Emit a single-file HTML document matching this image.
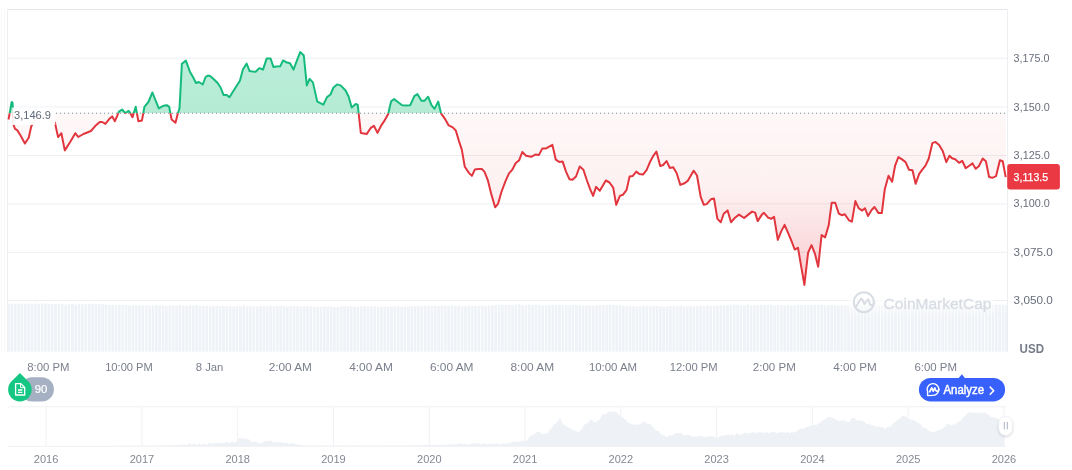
<!DOCTYPE html>
<html><head><meta charset="utf-8"><style>
html,body{margin:0;padding:0;background:#fff;}
body{width:1072px;height:470px;overflow:hidden;position:relative;font-family:"Liberation Sans",Arial,sans-serif;}
svg{position:absolute;left:0;top:0;will-change:transform;}
</style></head><body>
<svg width="1072" height="470" viewBox="0 0 1072 470">
<defs>
<clipPath id="cu"><rect x="0" y="0" width="1072" height="113.2"/></clipPath>
<clipPath id="cd"><rect x="0" y="113.2" width="1072" height="300"/></clipPath>
<linearGradient id="gr" x1="0" y1="113.2" x2="0" y2="285" gradientUnits="userSpaceOnUse">
<stop offset="0" stop-color="#ea3943" stop-opacity="0.035"/>
<stop offset="0.45" stop-color="#ea3943" stop-opacity="0.075"/>
<stop offset="1" stop-color="#ea3943" stop-opacity="0.26"/>
</linearGradient>
<linearGradient id="gg" x1="0" y1="50" x2="0" y2="113.2" gradientUnits="userSpaceOnUse">
<stop offset="0" stop-color="#bbeedb"/>
<stop offset="1" stop-color="#b5ebd5"/>
</linearGradient>
<filter id="sh" x="-50%" y="-50%" width="200%" height="200%"><feDropShadow dx="0" dy="1" stdDeviation="1.3" flood-color="#58667e" flood-opacity="0.3"/></filter>
<linearGradient id="wm" x1="0" y1="289" x2="0" y2="319" gradientUnits="userSpaceOnUse">
<stop offset="0" stop-color="#fff" stop-opacity="0.8"/>
<stop offset="0.5" stop-color="#fff" stop-opacity="0.6"/>
<stop offset="1" stop-color="#fff" stop-opacity="0"/>
</linearGradient>
</defs>
<!-- frame -->
<g stroke="#eceef1" stroke-width="1" fill="none">
<line x1="7" x2="1008" y1="9.5" y2="9.5" stroke="#e4e6e9"/>
<line x1="7.5" x2="7.5" y1="9" y2="352" stroke="#eff0f2"/>
<line x1="1.5" x2="1.5" y1="8" y2="352" stroke="#f9f9fa"/>
<line x1="4.5" x2="4.5" y1="8" y2="352" stroke="#f9f9fa"/>
<line x1="1007.5" x2="1007.5" y1="9" y2="352"/>
<line x1="7" x2="1007" y1="58.2" y2="58.2"/><line x1="7" x2="1007" y1="107.1" y2="107.1"/><line x1="7" x2="1007" y1="155.5" y2="155.5"/><line x1="7" x2="1007" y1="203.9" y2="203.9"/><line x1="7" x2="1007" y1="252.3" y2="252.3"/><line x1="7" x2="1007" y1="300.5" y2="300.5"/>
</g>
<!-- volume -->
<g fill="#eff2f6"><rect x="7.20" y="303.7" width="2.60" height="48.0"/><rect x="10.56" y="303.6" width="2.60" height="48.1"/><rect x="13.92" y="304.1" width="2.60" height="47.6"/><rect x="17.28" y="303.5" width="2.60" height="48.2"/><rect x="20.64" y="304.0" width="2.60" height="47.7"/><rect x="24.00" y="303.8" width="2.60" height="47.9"/><rect x="27.36" y="303.5" width="2.60" height="48.2"/><rect x="30.72" y="304.0" width="2.60" height="47.7"/><rect x="34.08" y="303.5" width="2.60" height="48.2"/><rect x="37.44" y="303.9" width="2.60" height="47.8"/><rect x="40.80" y="303.6" width="2.60" height="48.1"/><rect x="44.16" y="303.6" width="2.60" height="48.1"/><rect x="47.52" y="304.0" width="2.60" height="47.7"/><rect x="50.88" y="304.4" width="2.60" height="47.3"/><rect x="54.24" y="303.7" width="2.60" height="48.0"/><rect x="57.60" y="303.8" width="2.60" height="47.9"/><rect x="60.96" y="304.2" width="2.60" height="47.5"/><rect x="64.32" y="304.5" width="2.60" height="47.2"/><rect x="67.68" y="304.2" width="2.60" height="47.5"/><rect x="71.04" y="304.0" width="2.60" height="47.7"/><rect x="74.40" y="304.6" width="2.60" height="47.1"/><rect x="77.76" y="303.7" width="2.60" height="48.0"/><rect x="81.12" y="304.5" width="2.60" height="47.2"/><rect x="84.48" y="303.9" width="2.60" height="47.8"/><rect x="87.84" y="303.8" width="2.60" height="47.9"/><rect x="91.20" y="303.8" width="2.60" height="47.9"/><rect x="94.56" y="304.0" width="2.60" height="47.7"/><rect x="97.92" y="304.5" width="2.60" height="47.2"/><rect x="101.28" y="304.0" width="2.60" height="47.7"/><rect x="104.64" y="304.7" width="2.60" height="47.0"/><rect x="108.00" y="305.1" width="2.60" height="46.6"/><rect x="111.36" y="305.1" width="2.60" height="46.6"/><rect x="114.72" y="305.3" width="2.60" height="46.4"/><rect x="118.08" y="304.8" width="2.60" height="46.9"/><rect x="121.44" y="304.8" width="2.60" height="46.9"/><rect x="124.80" y="305.0" width="2.60" height="46.7"/><rect x="128.16" y="305.5" width="2.60" height="46.2"/><rect x="131.52" y="305.2" width="2.60" height="46.5"/><rect x="134.88" y="305.1" width="2.60" height="46.6"/><rect x="138.24" y="305.4" width="2.60" height="46.3"/><rect x="141.60" y="305.3" width="2.60" height="46.4"/><rect x="144.96" y="305.2" width="2.60" height="46.5"/><rect x="148.32" y="305.7" width="2.60" height="46.0"/><rect x="151.68" y="305.6" width="2.60" height="46.1"/><rect x="155.04" y="305.2" width="2.60" height="46.5"/><rect x="158.40" y="305.5" width="2.60" height="46.2"/><rect x="161.76" y="305.5" width="2.60" height="46.2"/><rect x="165.12" y="305.9" width="2.60" height="45.8"/><rect x="168.48" y="305.7" width="2.60" height="46.0"/><rect x="171.84" y="305.3" width="2.60" height="46.4"/><rect x="175.20" y="306.0" width="2.60" height="45.7"/><rect x="178.56" y="305.2" width="2.60" height="46.5"/><rect x="181.92" y="305.5" width="2.60" height="46.2"/><rect x="185.28" y="305.9" width="2.60" height="45.8"/><rect x="188.64" y="305.3" width="2.60" height="46.4"/><rect x="192.00" y="305.7" width="2.60" height="46.0"/><rect x="195.36" y="305.2" width="2.60" height="46.5"/><rect x="198.72" y="305.9" width="2.60" height="45.8"/><rect x="202.08" y="306.0" width="2.60" height="45.7"/><rect x="205.44" y="305.8" width="2.60" height="45.9"/><rect x="208.80" y="306.2" width="2.60" height="45.5"/><rect x="212.16" y="305.6" width="2.60" height="46.1"/><rect x="215.52" y="306.0" width="2.60" height="45.7"/><rect x="218.88" y="306.0" width="2.60" height="45.7"/><rect x="222.24" y="306.0" width="2.60" height="45.7"/><rect x="225.60" y="305.9" width="2.60" height="45.8"/><rect x="228.96" y="306.3" width="2.60" height="45.4"/><rect x="232.32" y="306.4" width="2.60" height="45.3"/><rect x="235.68" y="306.0" width="2.60" height="45.7"/><rect x="239.04" y="306.2" width="2.60" height="45.5"/><rect x="242.40" y="305.6" width="2.60" height="46.1"/><rect x="245.76" y="306.3" width="2.60" height="45.4"/><rect x="249.12" y="306.2" width="2.60" height="45.5"/><rect x="252.48" y="306.6" width="2.60" height="45.1"/><rect x="255.84" y="306.5" width="2.60" height="45.2"/><rect x="259.20" y="305.9" width="2.60" height="45.8"/><rect x="262.56" y="306.1" width="2.60" height="45.6"/><rect x="265.92" y="306.4" width="2.60" height="45.3"/><rect x="269.28" y="305.7" width="2.60" height="46.0"/><rect x="272.64" y="306.2" width="2.60" height="45.5"/><rect x="276.00" y="305.9" width="2.60" height="45.8"/><rect x="279.36" y="305.9" width="2.60" height="45.8"/><rect x="282.72" y="305.8" width="2.60" height="45.9"/><rect x="286.08" y="306.6" width="2.60" height="45.1"/><rect x="289.44" y="305.9" width="2.60" height="45.8"/><rect x="292.80" y="306.1" width="2.60" height="45.6"/><rect x="296.16" y="306.2" width="2.60" height="45.5"/><rect x="299.52" y="306.7" width="2.60" height="45.0"/><rect x="302.88" y="305.9" width="2.60" height="45.8"/><rect x="306.24" y="306.3" width="2.60" height="45.4"/><rect x="309.60" y="306.4" width="2.60" height="45.3"/><rect x="312.96" y="306.8" width="2.60" height="44.9"/><rect x="316.32" y="306.7" width="2.60" height="45.0"/><rect x="319.68" y="306.8" width="2.60" height="44.9"/><rect x="323.04" y="306.2" width="2.60" height="45.5"/><rect x="326.40" y="306.4" width="2.60" height="45.3"/><rect x="329.76" y="306.3" width="2.60" height="45.4"/><rect x="333.12" y="306.9" width="2.60" height="44.8"/><rect x="336.48" y="306.9" width="2.60" height="44.8"/><rect x="339.84" y="306.2" width="2.60" height="45.5"/><rect x="343.20" y="306.2" width="2.60" height="45.5"/><rect x="346.56" y="306.2" width="2.60" height="45.5"/><rect x="349.92" y="306.2" width="2.60" height="45.5"/><rect x="353.28" y="306.4" width="2.60" height="45.3"/><rect x="356.64" y="306.5" width="2.60" height="45.2"/><rect x="360.00" y="306.2" width="2.60" height="45.5"/><rect x="363.36" y="305.9" width="2.60" height="45.8"/><rect x="366.72" y="306.3" width="2.60" height="45.4"/><rect x="370.08" y="306.3" width="2.60" height="45.4"/><rect x="373.44" y="306.4" width="2.60" height="45.3"/><rect x="376.80" y="306.8" width="2.60" height="44.9"/><rect x="380.16" y="306.5" width="2.60" height="45.2"/><rect x="383.52" y="306.4" width="2.60" height="45.3"/><rect x="386.88" y="306.5" width="2.60" height="45.2"/><rect x="390.24" y="306.5" width="2.60" height="45.2"/><rect x="393.60" y="305.9" width="2.60" height="45.8"/><rect x="396.96" y="306.7" width="2.60" height="45.0"/><rect x="400.32" y="306.6" width="2.60" height="45.1"/><rect x="403.68" y="306.6" width="2.60" height="45.1"/><rect x="407.04" y="306.6" width="2.60" height="45.1"/><rect x="410.40" y="306.1" width="2.60" height="45.6"/><rect x="413.76" y="306.1" width="2.60" height="45.6"/><rect x="417.12" y="305.8" width="2.60" height="45.9"/><rect x="420.48" y="306.3" width="2.60" height="45.4"/><rect x="423.84" y="305.8" width="2.60" height="45.9"/><rect x="427.20" y="305.8" width="2.60" height="45.9"/><rect x="430.56" y="305.9" width="2.60" height="45.8"/><rect x="433.92" y="305.8" width="2.60" height="45.9"/><rect x="437.28" y="306.0" width="2.60" height="45.7"/><rect x="440.64" y="305.7" width="2.60" height="46.0"/><rect x="444.00" y="305.6" width="2.60" height="46.1"/><rect x="447.36" y="305.8" width="2.60" height="45.9"/><rect x="450.72" y="305.7" width="2.60" height="46.0"/><rect x="454.08" y="306.0" width="2.60" height="45.7"/><rect x="457.44" y="305.6" width="2.60" height="46.1"/><rect x="460.80" y="306.4" width="2.60" height="45.3"/><rect x="464.16" y="306.2" width="2.60" height="45.5"/><rect x="467.52" y="305.7" width="2.60" height="46.0"/><rect x="470.88" y="305.8" width="2.60" height="45.9"/><rect x="474.24" y="305.9" width="2.60" height="45.8"/><rect x="477.60" y="305.9" width="2.60" height="45.8"/><rect x="480.96" y="305.6" width="2.60" height="46.1"/><rect x="484.32" y="306.1" width="2.60" height="45.6"/><rect x="487.68" y="306.1" width="2.60" height="45.6"/><rect x="491.04" y="305.4" width="2.60" height="46.3"/><rect x="494.40" y="305.3" width="2.60" height="46.4"/><rect x="497.76" y="304.7" width="2.60" height="47.0"/><rect x="501.12" y="304.6" width="2.60" height="47.1"/><rect x="504.48" y="304.8" width="2.60" height="46.9"/><rect x="507.84" y="304.7" width="2.60" height="47.0"/><rect x="511.20" y="305.2" width="2.60" height="46.5"/><rect x="514.56" y="304.5" width="2.60" height="47.2"/><rect x="517.92" y="304.3" width="2.60" height="47.4"/><rect x="521.28" y="305.3" width="2.60" height="46.4"/><rect x="524.64" y="304.9" width="2.60" height="46.8"/><rect x="528.00" y="304.5" width="2.60" height="47.2"/><rect x="531.36" y="304.9" width="2.60" height="46.8"/><rect x="534.72" y="304.4" width="2.60" height="47.3"/><rect x="538.08" y="304.9" width="2.60" height="46.8"/><rect x="541.44" y="305.4" width="2.60" height="46.3"/><rect x="544.80" y="305.3" width="2.60" height="46.4"/><rect x="548.16" y="305.2" width="2.60" height="46.5"/><rect x="551.52" y="304.8" width="2.60" height="46.9"/><rect x="554.88" y="304.9" width="2.60" height="46.8"/><rect x="558.24" y="304.7" width="2.60" height="47.0"/><rect x="561.60" y="305.3" width="2.60" height="46.4"/><rect x="564.96" y="305.1" width="2.60" height="46.6"/><rect x="568.32" y="305.4" width="2.60" height="46.3"/><rect x="571.68" y="304.9" width="2.60" height="46.8"/><rect x="575.04" y="304.8" width="2.60" height="46.9"/><rect x="578.40" y="305.4" width="2.60" height="46.3"/><rect x="581.76" y="305.6" width="2.60" height="46.1"/><rect x="585.12" y="305.5" width="2.60" height="46.2"/><rect x="588.48" y="305.5" width="2.60" height="46.2"/><rect x="591.84" y="305.5" width="2.60" height="46.2"/><rect x="595.20" y="305.5" width="2.60" height="46.2"/><rect x="598.56" y="305.0" width="2.60" height="46.7"/><rect x="601.92" y="305.3" width="2.60" height="46.4"/><rect x="605.28" y="305.1" width="2.60" height="46.6"/><rect x="608.64" y="304.8" width="2.60" height="46.9"/><rect x="612.00" y="304.9" width="2.60" height="46.8"/><rect x="615.36" y="305.2" width="2.60" height="46.5"/><rect x="618.72" y="305.3" width="2.60" height="46.4"/><rect x="622.08" y="305.8" width="2.60" height="45.9"/><rect x="625.44" y="306.1" width="2.60" height="45.6"/><rect x="628.80" y="305.7" width="2.60" height="46.0"/><rect x="632.16" y="306.2" width="2.60" height="45.5"/><rect x="635.52" y="306.4" width="2.60" height="45.3"/><rect x="638.88" y="306.4" width="2.60" height="45.3"/><rect x="642.24" y="305.9" width="2.60" height="45.8"/><rect x="645.60" y="305.8" width="2.60" height="45.9"/><rect x="648.96" y="305.9" width="2.60" height="45.8"/><rect x="652.32" y="305.9" width="2.60" height="45.8"/><rect x="655.68" y="305.9" width="2.60" height="45.8"/><rect x="659.04" y="306.3" width="2.60" height="45.4"/><rect x="662.40" y="306.6" width="2.60" height="45.1"/><rect x="665.76" y="306.5" width="2.60" height="45.2"/><rect x="669.12" y="306.1" width="2.60" height="45.6"/><rect x="672.48" y="306.3" width="2.60" height="45.4"/><rect x="675.84" y="306.4" width="2.60" height="45.3"/><rect x="679.20" y="305.7" width="2.60" height="46.0"/><rect x="682.56" y="306.2" width="2.60" height="45.5"/><rect x="685.92" y="306.5" width="2.60" height="45.2"/><rect x="689.28" y="306.3" width="2.60" height="45.4"/><rect x="692.64" y="306.3" width="2.60" height="45.4"/><rect x="696.00" y="306.0" width="2.60" height="45.7"/><rect x="699.36" y="305.7" width="2.60" height="46.0"/><rect x="702.72" y="306.2" width="2.60" height="45.5"/><rect x="706.08" y="305.6" width="2.60" height="46.1"/><rect x="709.44" y="306.0" width="2.60" height="45.7"/><rect x="712.80" y="306.0" width="2.60" height="45.7"/><rect x="716.16" y="305.4" width="2.60" height="46.3"/><rect x="719.52" y="305.3" width="2.60" height="46.4"/><rect x="722.88" y="305.7" width="2.60" height="46.0"/><rect x="726.24" y="305.4" width="2.60" height="46.3"/><rect x="729.60" y="304.7" width="2.60" height="47.0"/><rect x="732.96" y="304.6" width="2.60" height="47.1"/><rect x="736.32" y="304.7" width="2.60" height="47.0"/><rect x="739.68" y="305.4" width="2.60" height="46.3"/><rect x="743.04" y="305.3" width="2.60" height="46.4"/><rect x="746.40" y="304.7" width="2.60" height="47.0"/><rect x="749.76" y="305.4" width="2.60" height="46.3"/><rect x="753.12" y="305.5" width="2.60" height="46.2"/><rect x="756.48" y="305.2" width="2.60" height="46.5"/><rect x="759.84" y="304.9" width="2.60" height="46.8"/><rect x="763.20" y="305.1" width="2.60" height="46.6"/><rect x="766.56" y="304.7" width="2.60" height="47.0"/><rect x="769.92" y="304.6" width="2.60" height="47.1"/><rect x="773.28" y="305.5" width="2.60" height="46.2"/><rect x="776.64" y="305.2" width="2.60" height="46.5"/><rect x="780.00" y="305.1" width="2.60" height="46.6"/><rect x="783.36" y="305.5" width="2.60" height="46.2"/><rect x="786.72" y="305.0" width="2.60" height="46.7"/><rect x="790.08" y="305.5" width="2.60" height="46.2"/><rect x="793.44" y="305.4" width="2.60" height="46.3"/><rect x="796.80" y="304.8" width="2.60" height="46.9"/><rect x="800.16" y="304.9" width="2.60" height="46.8"/><rect x="803.52" y="304.9" width="2.60" height="46.8"/><rect x="806.88" y="304.9" width="2.60" height="46.8"/><rect x="810.24" y="305.2" width="2.60" height="46.5"/><rect x="813.60" y="304.9" width="2.60" height="46.8"/><rect x="816.96" y="305.1" width="2.60" height="46.6"/><rect x="820.32" y="304.8" width="2.60" height="46.9"/><rect x="823.68" y="305.6" width="2.60" height="46.1"/><rect x="827.04" y="305.0" width="2.60" height="46.7"/><rect x="830.40" y="305.1" width="2.60" height="46.6"/><rect x="833.76" y="305.3" width="2.60" height="46.4"/><rect x="837.12" y="305.6" width="2.60" height="46.1"/><rect x="840.48" y="305.1" width="2.60" height="46.6"/><rect x="843.84" y="305.6" width="2.60" height="46.1"/><rect x="847.20" y="305.2" width="2.60" height="46.5"/><rect x="850.56" y="305.2" width="2.60" height="46.5"/><rect x="853.92" y="305.2" width="2.60" height="46.5"/><rect x="857.28" y="304.7" width="2.60" height="47.0"/><rect x="860.64" y="305.2" width="2.60" height="46.5"/><rect x="864.00" y="304.9" width="2.60" height="46.8"/><rect x="867.36" y="304.7" width="2.60" height="47.0"/><rect x="870.72" y="305.5" width="2.60" height="46.2"/><rect x="874.08" y="304.9" width="2.60" height="46.8"/><rect x="877.44" y="305.2" width="2.60" height="46.5"/><rect x="880.80" y="305.5" width="2.60" height="46.2"/><rect x="884.16" y="305.3" width="2.60" height="46.4"/><rect x="887.52" y="305.1" width="2.60" height="46.6"/><rect x="890.88" y="305.3" width="2.60" height="46.4"/><rect x="894.24" y="305.3" width="2.60" height="46.4"/><rect x="897.60" y="305.6" width="2.60" height="46.1"/><rect x="900.96" y="304.9" width="2.60" height="46.8"/><rect x="904.32" y="305.3" width="2.60" height="46.4"/><rect x="907.68" y="305.0" width="2.60" height="46.7"/><rect x="911.04" y="305.0" width="2.60" height="46.7"/><rect x="914.40" y="305.5" width="2.60" height="46.2"/><rect x="917.76" y="305.3" width="2.60" height="46.4"/><rect x="921.12" y="305.3" width="2.60" height="46.4"/><rect x="924.48" y="305.5" width="2.60" height="46.2"/><rect x="927.84" y="305.6" width="2.60" height="46.1"/><rect x="931.20" y="305.2" width="2.60" height="46.5"/><rect x="934.56" y="305.3" width="2.60" height="46.4"/><rect x="937.92" y="305.2" width="2.60" height="46.5"/><rect x="941.28" y="305.2" width="2.60" height="46.5"/><rect x="944.64" y="305.4" width="2.60" height="46.3"/><rect x="948.00" y="305.1" width="2.60" height="46.6"/><rect x="951.36" y="305.2" width="2.60" height="46.5"/><rect x="954.72" y="305.1" width="2.60" height="46.6"/><rect x="958.08" y="305.6" width="2.60" height="46.1"/><rect x="961.44" y="305.3" width="2.60" height="46.4"/><rect x="964.80" y="305.5" width="2.60" height="46.2"/><rect x="968.16" y="305.6" width="2.60" height="46.1"/><rect x="971.52" y="304.9" width="2.60" height="46.8"/><rect x="974.88" y="305.1" width="2.60" height="46.6"/><rect x="978.24" y="305.5" width="2.60" height="46.2"/><rect x="981.60" y="305.4" width="2.60" height="46.3"/><rect x="984.96" y="304.7" width="2.60" height="47.0"/><rect x="988.32" y="304.7" width="2.60" height="47.0"/><rect x="991.68" y="305.0" width="2.60" height="46.7"/><rect x="995.04" y="304.6" width="2.60" height="47.1"/><rect x="998.40" y="304.8" width="2.60" height="46.9"/><rect x="1001.76" y="304.6" width="2.60" height="47.1"/><rect x="1005.12" y="305.2" width="1.88" height="46.5"/></g>
<!-- watermark -->
<rect x="848.3" y="289" width="145.7" height="30" fill="url(#wm)"/>
<g opacity="1">
<circle cx="863.8" cy="302.2" r="10" fill="none" stroke="#d8dce3" stroke-width="2"/>
<path d="M856 306.4 L860.6 299.4 Q861.6 298 862.4 299.6 L864.3 304.2 L867.2 300 Q868.2 298.8 868.8 300.5 Q869.8 305.4 871.6 305.3 Q873.6 305.1 874.4 302.3" fill="none" stroke="#d8dce3" stroke-width="2" stroke-linejoin="round" stroke-linecap="round"/>
<text x="883.6" y="309.3" font-size="15.5" fill="#d8dce3" stroke="#d8dce3" stroke-width="0.3" textLength="107.8" lengthAdjust="spacingAndGlyphs">CoinMarketCap</text>
</g>
<!-- fills -->
<path d="M8.5 119.5 L11.7 102 L12.6 103 L13.8 125.7 L15.1 128.8 L17.2 130.1 L20.4 135.2 L24.9 143.5 L28.7 137.8 L31.3 126.3 L36 118 L45 116 L53.5 122.8 L54.9 122.5 L58.1 137.1 L61.4 133.2 L64.8 150.4 L70 142.2 L75.3 133.2 L78.2 137 L83.5 134 L90.9 131 L95.4 125.8 L99.8 122 L102.2 122 L105.4 123.9 L109.4 118.8 L112.2 116.4 L114.9 121.2 L117.3 115.6 L118.9 111.6 L122.1 109.5 L125.3 113.2 L128.5 110.8 L130.1 112.7 L132.5 117.2 L135.7 106.8 L138.4 121.2 L142 120.4 L144.4 106.8 L148.4 102 L152.4 92.5 L158.8 108.4 L163.6 105.7 L166.8 105.2 L169.2 106.8 L171.6 119.6 L175.5 122.8 L177.9 113.2 L179.5 108.4 L181.9 63.8 L185.9 60.6 L189.9 71.7 L193 77 L196 83 L198.9 82 L202.7 84.5 L205.6 77 L207.9 75.6 L210.1 76 L213.8 79.3 L217.6 83 L220.6 87.5 L223.5 94.9 L226.5 94.9 L229.5 97.2 L233.2 91.2 L239.9 80.8 L242.9 69.6 L246.6 63.6 L249.6 71.1 L252.6 71.5 L255.6 71.8 L259.3 68.1 L263 69.6 L266.7 58.4 L270.5 58.4 L273.5 67.1 L276.4 66.6 L280.2 66.2 L283.1 60.4 L286.9 62.6 L288 62.8 L290 63.2 L293.5 69.6 L296.7 61.2 L300.2 52.1 L303.8 55.5 L306.8 85.4 L309.6 78.9 L312.9 82.4 L317.3 101.6 L323.4 104.6 L327 97.1 L330.5 94.5 L333.5 87.4 L337.1 84.4 L340.6 85.4 L345.6 90.5 L348.6 96.5 L351.7 107.6 L355.7 104 L357.7 104.6 L360.8 132.9 L366.8 133.9 L370.9 127.8 L373.9 125.8 L377.5 132.9 L381.6 124.8 L384 121.4 L388.1 114.3 L391.1 101.2 L394.1 99.1 L398.2 102.2 L402.2 105.2 L406.3 105.6 L410.3 105.2 L414.3 96.1 L417.4 94.1 L421.4 100.8 L424.4 100.8 L428.1 96.7 L431.5 105.2 L434.5 108.8 L438.2 101.6 L441 113.3 L444.6 118.3 L448.7 125.4 L452.7 127.4 L455.8 130.5 L458.8 140.6 L461.8 149.6 L464.8 166.8 L468.9 172.9 L471.9 175.9 L474.9 169.4 L478.4 169 L481.8 169 L484.4 171.6 L487.8 180.1 L491.2 193.7 L495.1 207.3 L498 203.9 L501.4 192 L505.6 180.9 L509 173.3 L512.1 169.9 L515.8 163.1 L519.2 160.2 L522.3 152 L526 155.7 L531.1 156.8 L535.4 154.6 L538.8 155.1 L542.2 148.6 L545.6 148.6 L552.4 144.9 L555.8 159.7 L559.2 161.9 L562.6 161.4 L566 171.6 L569.4 179.2 L572.5 179.8 L576 176.5 L579.7 166.5 L583.4 169.8 L587.1 181 L590.1 189.2 L593.1 195.9 L596.1 186.9 L599.8 190.7 L605.8 180.5 L609.5 182.5 L613.2 187.7 L616.2 204.8 L619.9 195.9 L622.9 194.8 L626.6 189.9 L629.6 176.5 L632.6 176.1 L636.3 171.6 L639.3 174 L643 174.6 L646.7 169.8 L650.5 160.9 L653.5 155.6 L656.4 151.6 L660.2 166.1 L663.1 165 L666.6 161.1 L669.8 167.9 L673.2 167.3 L676.6 173 L680.3 184.9 L684.6 183.2 L688 180.6 L693.6 170.7 L697 175.5 L700.7 196.8 L703.8 204.8 L706.7 204.1 L710.9 199.3 L714 198.5 L717.4 218.9 L720.8 222.3 L723.7 213.8 L727.6 210.4 L731 222.3 L734.7 218 L739 214.6 L744.1 218 L748.3 214.6 L752.1 211.6 L755.1 212.6 L757.7 221.1 L761.9 214.6 L764 212.8 L768.1 217.6 L771.1 218.8 L774.1 216.8 L777.8 239.8 L781.2 231.4 L784.6 224.9 L788.3 233.4 L791.3 240.5 L794.7 249.5 L798 247.9 L801.4 267.7 L804.4 284.9 L808.1 252.6 L811.5 245.1 L814.9 253.6 L818.2 266.7 L821.6 235 L825.1 237.4 L828.7 225.3 L831.7 202.7 L835.2 202.7 L838.8 213.6 L841.8 215.2 L844.8 214.2 L848.9 220.3 L851.9 221.7 L855.4 201.1 L858.6 208.2 L862.2 210.6 L864.9 208.2 L868 216 L871.6 210 L874.5 207 L878.5 213.1 L881.8 213.1 L884.8 189.2 L888.5 175.7 L892.1 181.7 L895.1 165.7 L898.4 157.1 L902 159.4 L905.6 162.1 L908.9 169.7 L912.5 170.3 L915.6 183.8 L919.2 173.9 L922.3 169.7 L925.5 165.7 L928.8 158.5 L932.4 143.1 L935.5 141.9 L939.1 144.9 L942.7 150.9 L946.3 162.1 L949.5 155.7 L952 158.2 L955.2 159.3 L959 162.8 L962.2 160.8 L965.7 168.2 L969.3 165.7 L972.5 163.4 L975.7 168.8 L978.8 166.3 L982.7 158.6 L985.9 161.2 L989.1 177.1 L992.3 177.8 L996.1 176.1 L999.9 160.3 L1002.7 161.2 L1005.7 177.1 L1005.7 113.2 L8.5 113.2 Z" fill="url(#gg)" clip-path="url(#cu)"/>
<path d="M8.5 119.5 L11.7 102 L12.6 103 L13.8 125.7 L15.1 128.8 L17.2 130.1 L20.4 135.2 L24.9 143.5 L28.7 137.8 L31.3 126.3 L36 118 L45 116 L53.5 122.8 L54.9 122.5 L58.1 137.1 L61.4 133.2 L64.8 150.4 L70 142.2 L75.3 133.2 L78.2 137 L83.5 134 L90.9 131 L95.4 125.8 L99.8 122 L102.2 122 L105.4 123.9 L109.4 118.8 L112.2 116.4 L114.9 121.2 L117.3 115.6 L118.9 111.6 L122.1 109.5 L125.3 113.2 L128.5 110.8 L130.1 112.7 L132.5 117.2 L135.7 106.8 L138.4 121.2 L142 120.4 L144.4 106.8 L148.4 102 L152.4 92.5 L158.8 108.4 L163.6 105.7 L166.8 105.2 L169.2 106.8 L171.6 119.6 L175.5 122.8 L177.9 113.2 L179.5 108.4 L181.9 63.8 L185.9 60.6 L189.9 71.7 L193 77 L196 83 L198.9 82 L202.7 84.5 L205.6 77 L207.9 75.6 L210.1 76 L213.8 79.3 L217.6 83 L220.6 87.5 L223.5 94.9 L226.5 94.9 L229.5 97.2 L233.2 91.2 L239.9 80.8 L242.9 69.6 L246.6 63.6 L249.6 71.1 L252.6 71.5 L255.6 71.8 L259.3 68.1 L263 69.6 L266.7 58.4 L270.5 58.4 L273.5 67.1 L276.4 66.6 L280.2 66.2 L283.1 60.4 L286.9 62.6 L288 62.8 L290 63.2 L293.5 69.6 L296.7 61.2 L300.2 52.1 L303.8 55.5 L306.8 85.4 L309.6 78.9 L312.9 82.4 L317.3 101.6 L323.4 104.6 L327 97.1 L330.5 94.5 L333.5 87.4 L337.1 84.4 L340.6 85.4 L345.6 90.5 L348.6 96.5 L351.7 107.6 L355.7 104 L357.7 104.6 L360.8 132.9 L366.8 133.9 L370.9 127.8 L373.9 125.8 L377.5 132.9 L381.6 124.8 L384 121.4 L388.1 114.3 L391.1 101.2 L394.1 99.1 L398.2 102.2 L402.2 105.2 L406.3 105.6 L410.3 105.2 L414.3 96.1 L417.4 94.1 L421.4 100.8 L424.4 100.8 L428.1 96.7 L431.5 105.2 L434.5 108.8 L438.2 101.6 L441 113.3 L444.6 118.3 L448.7 125.4 L452.7 127.4 L455.8 130.5 L458.8 140.6 L461.8 149.6 L464.8 166.8 L468.9 172.9 L471.9 175.9 L474.9 169.4 L478.4 169 L481.8 169 L484.4 171.6 L487.8 180.1 L491.2 193.7 L495.1 207.3 L498 203.9 L501.4 192 L505.6 180.9 L509 173.3 L512.1 169.9 L515.8 163.1 L519.2 160.2 L522.3 152 L526 155.7 L531.1 156.8 L535.4 154.6 L538.8 155.1 L542.2 148.6 L545.6 148.6 L552.4 144.9 L555.8 159.7 L559.2 161.9 L562.6 161.4 L566 171.6 L569.4 179.2 L572.5 179.8 L576 176.5 L579.7 166.5 L583.4 169.8 L587.1 181 L590.1 189.2 L593.1 195.9 L596.1 186.9 L599.8 190.7 L605.8 180.5 L609.5 182.5 L613.2 187.7 L616.2 204.8 L619.9 195.9 L622.9 194.8 L626.6 189.9 L629.6 176.5 L632.6 176.1 L636.3 171.6 L639.3 174 L643 174.6 L646.7 169.8 L650.5 160.9 L653.5 155.6 L656.4 151.6 L660.2 166.1 L663.1 165 L666.6 161.1 L669.8 167.9 L673.2 167.3 L676.6 173 L680.3 184.9 L684.6 183.2 L688 180.6 L693.6 170.7 L697 175.5 L700.7 196.8 L703.8 204.8 L706.7 204.1 L710.9 199.3 L714 198.5 L717.4 218.9 L720.8 222.3 L723.7 213.8 L727.6 210.4 L731 222.3 L734.7 218 L739 214.6 L744.1 218 L748.3 214.6 L752.1 211.6 L755.1 212.6 L757.7 221.1 L761.9 214.6 L764 212.8 L768.1 217.6 L771.1 218.8 L774.1 216.8 L777.8 239.8 L781.2 231.4 L784.6 224.9 L788.3 233.4 L791.3 240.5 L794.7 249.5 L798 247.9 L801.4 267.7 L804.4 284.9 L808.1 252.6 L811.5 245.1 L814.9 253.6 L818.2 266.7 L821.6 235 L825.1 237.4 L828.7 225.3 L831.7 202.7 L835.2 202.7 L838.8 213.6 L841.8 215.2 L844.8 214.2 L848.9 220.3 L851.9 221.7 L855.4 201.1 L858.6 208.2 L862.2 210.6 L864.9 208.2 L868 216 L871.6 210 L874.5 207 L878.5 213.1 L881.8 213.1 L884.8 189.2 L888.5 175.7 L892.1 181.7 L895.1 165.7 L898.4 157.1 L902 159.4 L905.6 162.1 L908.9 169.7 L912.5 170.3 L915.6 183.8 L919.2 173.9 L922.3 169.7 L925.5 165.7 L928.8 158.5 L932.4 143.1 L935.5 141.9 L939.1 144.9 L942.7 150.9 L946.3 162.1 L949.5 155.7 L952 158.2 L955.2 159.3 L959 162.8 L962.2 160.8 L965.7 168.2 L969.3 165.7 L972.5 163.4 L975.7 168.8 L978.8 166.3 L982.7 158.6 L985.9 161.2 L989.1 177.1 L992.3 177.8 L996.1 176.1 L999.9 160.3 L1002.7 161.2 L1005.7 177.1 L1005.7 113.2 L8.5 113.2 Z" fill="url(#gr)" clip-path="url(#cd)"/>
<!-- baseline dotted -->
<line x1="56" x2="1007" y1="113.2" y2="113.2" stroke="#80868f" stroke-width="1" stroke-dasharray="1 3"/>
<!-- lines -->
<path d="M8.5 119.5 L11.7 102 L12.6 103 L13.8 125.7 L15.1 128.8 L17.2 130.1 L20.4 135.2 L24.9 143.5 L28.7 137.8 L31.3 126.3 L36 118 L45 116 L53.5 122.8 L54.9 122.5 L58.1 137.1 L61.4 133.2 L64.8 150.4 L70 142.2 L75.3 133.2 L78.2 137 L83.5 134 L90.9 131 L95.4 125.8 L99.8 122 L102.2 122 L105.4 123.9 L109.4 118.8 L112.2 116.4 L114.9 121.2 L117.3 115.6 L118.9 111.6 L122.1 109.5 L125.3 113.2 L128.5 110.8 L130.1 112.7 L132.5 117.2 L135.7 106.8 L138.4 121.2 L142 120.4 L144.4 106.8 L148.4 102 L152.4 92.5 L158.8 108.4 L163.6 105.7 L166.8 105.2 L169.2 106.8 L171.6 119.6 L175.5 122.8 L177.9 113.2 L179.5 108.4 L181.9 63.8 L185.9 60.6 L189.9 71.7 L193 77 L196 83 L198.9 82 L202.7 84.5 L205.6 77 L207.9 75.6 L210.1 76 L213.8 79.3 L217.6 83 L220.6 87.5 L223.5 94.9 L226.5 94.9 L229.5 97.2 L233.2 91.2 L239.9 80.8 L242.9 69.6 L246.6 63.6 L249.6 71.1 L252.6 71.5 L255.6 71.8 L259.3 68.1 L263 69.6 L266.7 58.4 L270.5 58.4 L273.5 67.1 L276.4 66.6 L280.2 66.2 L283.1 60.4 L286.9 62.6 L288 62.8 L290 63.2 L293.5 69.6 L296.7 61.2 L300.2 52.1 L303.8 55.5 L306.8 85.4 L309.6 78.9 L312.9 82.4 L317.3 101.6 L323.4 104.6 L327 97.1 L330.5 94.5 L333.5 87.4 L337.1 84.4 L340.6 85.4 L345.6 90.5 L348.6 96.5 L351.7 107.6 L355.7 104 L357.7 104.6 L360.8 132.9 L366.8 133.9 L370.9 127.8 L373.9 125.8 L377.5 132.9 L381.6 124.8 L384 121.4 L388.1 114.3 L391.1 101.2 L394.1 99.1 L398.2 102.2 L402.2 105.2 L406.3 105.6 L410.3 105.2 L414.3 96.1 L417.4 94.1 L421.4 100.8 L424.4 100.8 L428.1 96.7 L431.5 105.2 L434.5 108.8 L438.2 101.6 L441 113.3 L444.6 118.3 L448.7 125.4 L452.7 127.4 L455.8 130.5 L458.8 140.6 L461.8 149.6 L464.8 166.8 L468.9 172.9 L471.9 175.9 L474.9 169.4 L478.4 169 L481.8 169 L484.4 171.6 L487.8 180.1 L491.2 193.7 L495.1 207.3 L498 203.9 L501.4 192 L505.6 180.9 L509 173.3 L512.1 169.9 L515.8 163.1 L519.2 160.2 L522.3 152 L526 155.7 L531.1 156.8 L535.4 154.6 L538.8 155.1 L542.2 148.6 L545.6 148.6 L552.4 144.9 L555.8 159.7 L559.2 161.9 L562.6 161.4 L566 171.6 L569.4 179.2 L572.5 179.8 L576 176.5 L579.7 166.5 L583.4 169.8 L587.1 181 L590.1 189.2 L593.1 195.9 L596.1 186.9 L599.8 190.7 L605.8 180.5 L609.5 182.5 L613.2 187.7 L616.2 204.8 L619.9 195.9 L622.9 194.8 L626.6 189.9 L629.6 176.5 L632.6 176.1 L636.3 171.6 L639.3 174 L643 174.6 L646.7 169.8 L650.5 160.9 L653.5 155.6 L656.4 151.6 L660.2 166.1 L663.1 165 L666.6 161.1 L669.8 167.9 L673.2 167.3 L676.6 173 L680.3 184.9 L684.6 183.2 L688 180.6 L693.6 170.7 L697 175.5 L700.7 196.8 L703.8 204.8 L706.7 204.1 L710.9 199.3 L714 198.5 L717.4 218.9 L720.8 222.3 L723.7 213.8 L727.6 210.4 L731 222.3 L734.7 218 L739 214.6 L744.1 218 L748.3 214.6 L752.1 211.6 L755.1 212.6 L757.7 221.1 L761.9 214.6 L764 212.8 L768.1 217.6 L771.1 218.8 L774.1 216.8 L777.8 239.8 L781.2 231.4 L784.6 224.9 L788.3 233.4 L791.3 240.5 L794.7 249.5 L798 247.9 L801.4 267.7 L804.4 284.9 L808.1 252.6 L811.5 245.1 L814.9 253.6 L818.2 266.7 L821.6 235 L825.1 237.4 L828.7 225.3 L831.7 202.7 L835.2 202.7 L838.8 213.6 L841.8 215.2 L844.8 214.2 L848.9 220.3 L851.9 221.7 L855.4 201.1 L858.6 208.2 L862.2 210.6 L864.9 208.2 L868 216 L871.6 210 L874.5 207 L878.5 213.1 L881.8 213.1 L884.8 189.2 L888.5 175.7 L892.1 181.7 L895.1 165.7 L898.4 157.1 L902 159.4 L905.6 162.1 L908.9 169.7 L912.5 170.3 L915.6 183.8 L919.2 173.9 L922.3 169.7 L925.5 165.7 L928.8 158.5 L932.4 143.1 L935.5 141.9 L939.1 144.9 L942.7 150.9 L946.3 162.1 L949.5 155.7 L952 158.2 L955.2 159.3 L959 162.8 L962.2 160.8 L965.7 168.2 L969.3 165.7 L972.5 163.4 L975.7 168.8 L978.8 166.3 L982.7 158.6 L985.9 161.2 L989.1 177.1 L992.3 177.8 L996.1 176.1 L999.9 160.3 L1002.7 161.2 L1005.7 177.1" fill="none" stroke="#15bb7c" stroke-width="2" stroke-linejoin="round" clip-path="url(#cu)"/>
<path d="M8.5 119.5 L11.7 102 L12.6 103 L13.8 125.7 L15.1 128.8 L17.2 130.1 L20.4 135.2 L24.9 143.5 L28.7 137.8 L31.3 126.3 L36 118 L45 116 L53.5 122.8 L54.9 122.5 L58.1 137.1 L61.4 133.2 L64.8 150.4 L70 142.2 L75.3 133.2 L78.2 137 L83.5 134 L90.9 131 L95.4 125.8 L99.8 122 L102.2 122 L105.4 123.9 L109.4 118.8 L112.2 116.4 L114.9 121.2 L117.3 115.6 L118.9 111.6 L122.1 109.5 L125.3 113.2 L128.5 110.8 L130.1 112.7 L132.5 117.2 L135.7 106.8 L138.4 121.2 L142 120.4 L144.4 106.8 L148.4 102 L152.4 92.5 L158.8 108.4 L163.6 105.7 L166.8 105.2 L169.2 106.8 L171.6 119.6 L175.5 122.8 L177.9 113.2 L179.5 108.4 L181.9 63.8 L185.9 60.6 L189.9 71.7 L193 77 L196 83 L198.9 82 L202.7 84.5 L205.6 77 L207.9 75.6 L210.1 76 L213.8 79.3 L217.6 83 L220.6 87.5 L223.5 94.9 L226.5 94.9 L229.5 97.2 L233.2 91.2 L239.9 80.8 L242.9 69.6 L246.6 63.6 L249.6 71.1 L252.6 71.5 L255.6 71.8 L259.3 68.1 L263 69.6 L266.7 58.4 L270.5 58.4 L273.5 67.1 L276.4 66.6 L280.2 66.2 L283.1 60.4 L286.9 62.6 L288 62.8 L290 63.2 L293.5 69.6 L296.7 61.2 L300.2 52.1 L303.8 55.5 L306.8 85.4 L309.6 78.9 L312.9 82.4 L317.3 101.6 L323.4 104.6 L327 97.1 L330.5 94.5 L333.5 87.4 L337.1 84.4 L340.6 85.4 L345.6 90.5 L348.6 96.5 L351.7 107.6 L355.7 104 L357.7 104.6 L360.8 132.9 L366.8 133.9 L370.9 127.8 L373.9 125.8 L377.5 132.9 L381.6 124.8 L384 121.4 L388.1 114.3 L391.1 101.2 L394.1 99.1 L398.2 102.2 L402.2 105.2 L406.3 105.6 L410.3 105.2 L414.3 96.1 L417.4 94.1 L421.4 100.8 L424.4 100.8 L428.1 96.7 L431.5 105.2 L434.5 108.8 L438.2 101.6 L441 113.3 L444.6 118.3 L448.7 125.4 L452.7 127.4 L455.8 130.5 L458.8 140.6 L461.8 149.6 L464.8 166.8 L468.9 172.9 L471.9 175.9 L474.9 169.4 L478.4 169 L481.8 169 L484.4 171.6 L487.8 180.1 L491.2 193.7 L495.1 207.3 L498 203.9 L501.4 192 L505.6 180.9 L509 173.3 L512.1 169.9 L515.8 163.1 L519.2 160.2 L522.3 152 L526 155.7 L531.1 156.8 L535.4 154.6 L538.8 155.1 L542.2 148.6 L545.6 148.6 L552.4 144.9 L555.8 159.7 L559.2 161.9 L562.6 161.4 L566 171.6 L569.4 179.2 L572.5 179.8 L576 176.5 L579.7 166.5 L583.4 169.8 L587.1 181 L590.1 189.2 L593.1 195.9 L596.1 186.9 L599.8 190.7 L605.8 180.5 L609.5 182.5 L613.2 187.7 L616.2 204.8 L619.9 195.9 L622.9 194.8 L626.6 189.9 L629.6 176.5 L632.6 176.1 L636.3 171.6 L639.3 174 L643 174.6 L646.7 169.8 L650.5 160.9 L653.5 155.6 L656.4 151.6 L660.2 166.1 L663.1 165 L666.6 161.1 L669.8 167.9 L673.2 167.3 L676.6 173 L680.3 184.9 L684.6 183.2 L688 180.6 L693.6 170.7 L697 175.5 L700.7 196.8 L703.8 204.8 L706.7 204.1 L710.9 199.3 L714 198.5 L717.4 218.9 L720.8 222.3 L723.7 213.8 L727.6 210.4 L731 222.3 L734.7 218 L739 214.6 L744.1 218 L748.3 214.6 L752.1 211.6 L755.1 212.6 L757.7 221.1 L761.9 214.6 L764 212.8 L768.1 217.6 L771.1 218.8 L774.1 216.8 L777.8 239.8 L781.2 231.4 L784.6 224.9 L788.3 233.4 L791.3 240.5 L794.7 249.5 L798 247.9 L801.4 267.7 L804.4 284.9 L808.1 252.6 L811.5 245.1 L814.9 253.6 L818.2 266.7 L821.6 235 L825.1 237.4 L828.7 225.3 L831.7 202.7 L835.2 202.7 L838.8 213.6 L841.8 215.2 L844.8 214.2 L848.9 220.3 L851.9 221.7 L855.4 201.1 L858.6 208.2 L862.2 210.6 L864.9 208.2 L868 216 L871.6 210 L874.5 207 L878.5 213.1 L881.8 213.1 L884.8 189.2 L888.5 175.7 L892.1 181.7 L895.1 165.7 L898.4 157.1 L902 159.4 L905.6 162.1 L908.9 169.7 L912.5 170.3 L915.6 183.8 L919.2 173.9 L922.3 169.7 L925.5 165.7 L928.8 158.5 L932.4 143.1 L935.5 141.9 L939.1 144.9 L942.7 150.9 L946.3 162.1 L949.5 155.7 L952 158.2 L955.2 159.3 L959 162.8 L962.2 160.8 L965.7 168.2 L969.3 165.7 L972.5 163.4 L975.7 168.8 L978.8 166.3 L982.7 158.6 L985.9 161.2 L989.1 177.1 L992.3 177.8 L996.1 176.1 L999.9 160.3 L1002.7 161.2 L1005.7 177.1" fill="none" stroke="#e2363f" stroke-width="2" stroke-linejoin="round" clip-path="url(#cd)"/>
<!-- baseline label -->
<rect x="12.2" y="107.5" width="43" height="17.4" fill="#fff" fill-opacity="0.97"/>
<text x="14" y="118.7" font-size="11" fill="#5f6879" textLength="37" lengthAdjust="spacingAndGlyphs">3,146.9</text>
<!-- y labels -->
<g font-size="11" fill="#686e7b"><text x="1013.6" y="61.7" textLength="35.8" lengthAdjust="spacingAndGlyphs">3,175.0</text><text x="1013.6" y="110.6" textLength="36.2" lengthAdjust="spacingAndGlyphs">3,150.0</text><text x="1013.6" y="159.0" textLength="36.2" lengthAdjust="spacingAndGlyphs">3,125.0</text><text x="1013.6" y="207.4" textLength="36.2" lengthAdjust="spacingAndGlyphs">3,100.0</text><text x="1013.6" y="255.8" textLength="39.2" lengthAdjust="spacingAndGlyphs">3,075.0</text><text x="1013.6" y="304.0" textLength="39.2" lengthAdjust="spacingAndGlyphs">3,050.0</text></g>
<!-- price tag -->
<rect x="1007.2" y="164" width="52.7" height="25.6" rx="3" fill="#ea3943"/>
<text x="1013.6" y="181" font-size="11" fill="#fff" stroke="#fff" stroke-width="0.25" textLength="34.6" lengthAdjust="spacingAndGlyphs">3,113.5</text>
<text x="1019.6" y="352.6" font-size="12" font-weight="bold" fill="#767b88" textLength="24.4" lengthAdjust="spacingAndGlyphs">USD</text>
<!-- x labels -->
<g font-size="11" fill="#7a7f8c" text-anchor="middle"><text x="48.3" y="370.8" textLength="42.2" lengthAdjust="spacingAndGlyphs">8:00 PM</text><text x="129.0" y="370.8" textLength="47.7" lengthAdjust="spacingAndGlyphs">10:00 PM</text><text x="209.6" y="370.8" textLength="27.6" lengthAdjust="spacingAndGlyphs">8 Jan</text><text x="290.3" y="370.8" textLength="43.3" lengthAdjust="spacingAndGlyphs">2:00 AM</text><text x="371.0" y="370.8" textLength="43.6" lengthAdjust="spacingAndGlyphs">4:00 AM</text><text x="451.7" y="370.8" textLength="43.6" lengthAdjust="spacingAndGlyphs">6:00 AM</text><text x="532.3" y="370.8" textLength="43.6" lengthAdjust="spacingAndGlyphs">8:00 AM</text><text x="613.0" y="370.8" textLength="48.2" lengthAdjust="spacingAndGlyphs">10:00 AM</text><text x="693.7" y="370.8" textLength="48.0" lengthAdjust="spacingAndGlyphs">12:00 PM</text><text x="774.3" y="370.8" textLength="42.9" lengthAdjust="spacingAndGlyphs">2:00 PM</text><text x="855.0" y="370.8" textLength="43.5" lengthAdjust="spacingAndGlyphs">4:00 PM</text><text x="935.7" y="370.8" textLength="42.6" lengthAdjust="spacingAndGlyphs">6:00 PM</text></g>
<!-- badge -->
<rect x="20" y="377.3" width="33.9" height="24.3" rx="12.15" fill="#a6b0c3"/>
<text x="34.7" y="393" font-size="11" fill="#fff" stroke="#fff" stroke-width="0.2" textLength="12.6" lengthAdjust="spacingAndGlyphs">90</text>
<path d="M19.9 372.91 L28.24 381.26 A11.8 11.8 0 1 1 11.56 381.26 Z" fill="#16c784"/>
<g fill="none" stroke="#fff" stroke-width="1.3" stroke-linejoin="round">
<path d="M15.6 383.6 H20.8 L24.7 387.5 V395 H15.6 Z"/>
<path d="M20.6 383.8 V387.7 H24.5" stroke-width="1"/>
<path d="M18 390 H22.4 M18 392.4 H22.4"/>
</g>
<!-- analyze -->
<path d="M958.5 378.2 L961.8 374.3 L965.1 378.2 Z" fill="#3861fb"/>
<rect x="918.9" y="377.9" width="86.2" height="23.6" rx="11.8" fill="#3861fb"/>
<g fill="none" stroke="#fff" stroke-width="1.6" stroke-linecap="round" stroke-linejoin="round">
<path d="M933 395.4 A5.9 5.9 0 1 0 927.6 391.9 L927.6 395.6 Z" stroke-width="1.4"/>
<path d="M929.6 391.8 L931.7 387.8 L933.2 391.2 L934.9 387.9 Q935.9 391.7 937.1 391.3 Q938.3 390.9 938.8 389.4" stroke-width="1.7"/>
<path d="M990.2 387.1 L993.7 390.7 L990.2 394.3"/>
</g>
<text x="943.5" y="393.8" font-size="12" fill="#fff" stroke="#fff" stroke-width="0.45" textLength="40.6" lengthAdjust="spacingAndGlyphs">Analyze</text>
<!-- navigator -->
<g stroke="#f0f1f4" stroke-width="1">
<line x1="8" x2="1006" y1="406.8" y2="406.8"/>
<line x1="8" x2="1006" y1="446.3" y2="446.3"/>
<line x1="46.1" x2="46.1" y1="407" y2="446"/><line x1="141.9" x2="141.9" y1="407" y2="446"/><line x1="237.7" x2="237.7" y1="407" y2="446"/><line x1="333.5" x2="333.5" y1="407" y2="446"/><line x1="429.3" x2="429.3" y1="407" y2="446"/><line x1="525.1" x2="525.1" y1="407" y2="446"/><line x1="620.8" x2="620.8" y1="407" y2="446"/><line x1="716.6" x2="716.6" y1="407" y2="446"/><line x1="812.4" x2="812.4" y1="407" y2="446"/><line x1="908.2" x2="908.2" y1="407" y2="446"/><line x1="1004.0" x2="1004.0" y1="407" y2="446"/>
</g>
<path d="M8 446 L9.6 446 L11.2 446 L12.8 446 L14.5 446 L16.1 446 L17.7 446 L19.3 446 L20.9 446 L22.5 446 L24.1 446 L25.8 446 L27.4 446 L29 446 L30.6 446 L32.2 446 L33.8 446 L35.4 446 L37 446 L38.7 446 L40.3 446 L41.9 446 L43.5 445.9 L45.1 445.9 L46.7 445.9 L48.3 445.9 L50 445.9 L51.6 445.9 L53.2 445.9 L54.8 445.9 L56.4 445.9 L58 445.9 L59.6 445.9 L61.2 445.9 L62.9 445.9 L64.5 445.9 L66.1 445.9 L67.7 445.9 L69.3 445.9 L70.9 445.9 L72.5 445.9 L74.2 445.9 L75.8 445.9 L77.4 445.9 L79 445.9 L80.6 445.9 L82.2 445.9 L83.8 445.9 L85.5 445.9 L87.1 445.9 L88.7 445.9 L90.3 445.9 L91.9 445.9 L93.5 445.9 L95.1 445.9 L96.8 445.9 L98.4 445.9 L100 445.9 L101.6 445.9 L103.2 445.9 L104.8 445.9 L106.4 445.9 L108 445.9 L109.7 445.9 L111.3 445.9 L112.9 445.9 L114.5 445.9 L116.1 445.8 L117.7 445.8 L119.3 445.8 L121 445.8 L122.6 445.8 L124.2 445.8 L125.8 445.8 L127.4 445.8 L129 445.8 L130.6 445.8 L132.2 445.8 L133.9 445.8 L135.5 445.8 L137.1 445.8 L138.7 445.8 L140.3 445.8 L141.9 445.8 L143.5 445.8 L145.2 445.8 L146.8 445.8 L148.4 445.8 L150 445.8 L151.6 445.8 L153.3 445.7 L154.9 445.7 L156.6 445.6 L158.2 445.6 L159.9 445.5 L161.5 445.5 L163.2 445.4 L164.8 445.4 L166.5 445.3 L168.1 445.3 L169.8 445.2 L171.4 445.2 L173.1 445.1 L174.7 445.1 L176.4 445 L178 445 L179.8 444.8 L181.7 444.7 L183.5 444.5 L185.3 445 L187.2 445 L189 443.2 L190.7 444.5 L192.4 444.4 L194.1 443.2 L195.8 444.8 L197.5 445 L199.2 443.4 L200.9 445 L202.6 443.8 L204.3 444 L206 445.1 L207.7 444.6 L209.3 443.1 L211 443.6 L212.7 443.7 L214.3 443.2 L216 442.8 L217.7 443 L219.3 443.8 L221 442.2 L222.7 443.3 L224.3 443 L226 441.9 L227.6 442.4 L229.2 442.9 L230.8 442.4 L232.4 441.2 L234 443.1 L235.7 441.6 L237.3 441 L239 438.1 L240.8 438.5 L242.5 438 L244.2 439.6 L246 438.5 L248 438.9 L250 440.2 L252 441.9 L253.6 442.1 L255.2 441.3 L256.8 441.4 L258.4 443.5 L260 443.2 L261.8 443 L263.6 441.3 L265.4 440.8 L267.2 441.8 L269 440.8 L270.8 440.3 L272.6 442.4 L274.4 441.9 L276.2 442.5 L278 441.1 L279.6 443 L281.2 441.4 L282.8 443.4 L284.4 442.7 L286 442.6 L287.6 443.3 L289.2 444.3 L290.8 443.1 L292.4 443 L294 444.1 L295.8 443.7 L297.7 444.5 L299.5 444.8 L301.3 445 L303.2 445.2 L305 445.5 L306.6 445.5 L308.2 445.5 L309.8 445.5 L311.4 445.5 L313.1 445.5 L314.7 445.5 L316.3 445.5 L317.9 445.5 L319.5 445.5 L321.1 445.5 L322.7 445.5 L324.3 445.5 L325.9 445.5 L327.5 445.5 L329.2 445.5 L330.8 445.5 L332.4 445.5 L334 445.5 L335.6 445.5 L337.2 445.5 L338.8 445.5 L340.4 445.5 L342 445.5 L343.6 445.5 L345.3 445.5 L346.9 445.5 L348.5 445.5 L350.1 445.5 L351.7 445.5 L353.3 445.6 L354.9 445.6 L356.5 445.6 L358.1 445.6 L359.7 445.6 L361.4 445.6 L363 445.6 L364.6 445.6 L366.2 445.6 L367.8 445.6 L369.4 445.6 L371 445.6 L372.6 445.6 L374.2 445.6 L375.8 445.6 L377.5 445.6 L379.1 445.6 L380.7 445.6 L382.3 445.6 L383.9 445.6 L385.5 445.6 L387.1 445.6 L388.7 445.6 L390.3 445.6 L391.9 445.6 L393.6 445.6 L395.2 445.6 L396.8 445.6 L398.4 445.6 L400 445.6 L401.6 445.6 L403.2 445.5 L404.8 445.5 L406.4 445.5 L408 445.4 L409.6 445.4 L411.3 445.4 L412.9 445.3 L414.5 445.3 L416.1 445.3 L417.7 445.3 L419.3 445.2 L420.9 445.2 L422.5 445.2 L424.1 445.1 L425.7 445.1 L427.3 445.1 L428.9 445 L430.5 445 L432.2 445 L433.8 444.9 L435.4 444.9 L437 444.9 L438.6 444.8 L440.2 444.8 L441.8 444.8 L443.4 444.8 L445 444.7 L446.6 444.7 L448.2 444.7 L449.8 444.6 L451.5 444.6 L453.1 444.6 L454.7 444.5 L456.3 444.5 L457.9 443.6 L459.5 443.7 L461.1 443.4 L462.7 443.7 L464.3 443.9 L465.9 443.9 L467.5 444.9 L469.1 443.8 L470.7 444.2 L472.4 443.5 L474 443.8 L475.6 443.1 L477.2 443.5 L478.8 443 L480.4 444.5 L482 444.1 L483.6 443.3 L485.2 443.8 L486.8 444.8 L488.4 442.9 L490.1 444.4 L491.7 443.5 L493.3 443.6 L494.9 444.3 L496.5 443.3 L498.1 443.5 L499.7 443.8 L501.3 444.4 L502.9 442.9 L504.6 444 L506.2 443.6 L507.8 443.4 L509.4 442.8 L511 442.7 L512.8 441.8 L514.5 441.7 L516.2 441.3 L518 442.5 L519.8 441.2 L521.5 440.8 L523.2 440.3 L525 441.8 L526.7 440.5 L528.3 438.7 L530 436.5 L531.6 435.4 L533.2 434.5 L534.8 433.9 L536.4 432.2 L538 431.9 L539.6 431.9 L541.2 433.8 L542.8 434.2 L544.4 433.7 L546 433.4 L548 433 L550 429.6 L552 427.7 L553.6 424.9 L555.3 423.7 L557 421.9 L558.6 420 L560 417.3 L561.6 421.5 L563.3 423.9 L564.9 425.5 L566.5 426.1 L568.1 427.8 L569.7 428 L571.3 428.9 L573.3 430.1 L575.2 430.4 L577.2 431.7 L579.2 432.1 L581.6 429.1 L584 425.3 L586.1 423.8 L588.2 422.5 L590.3 419.8 L592.4 420.3 L594.5 422.4 L596.6 421.2 L598.7 420.2 L600.9 417.6 L603 414 L605.1 414.4 L607.2 413.2 L609.3 411.3 L610.9 411.8 L612.5 412.2 L614.1 411 L615.7 412.1 L617.8 413.3 L619.9 415.4 L622 416.7 L624.1 418.7 L626.3 420.2 L628.4 422.9 L630.8 423.4 L633.1 424.4 L635.5 424.4 L637.9 425 L640 423.9 L642.1 423 L644.2 421.1 L646.3 423.4 L648.5 423.5 L650.6 424.3 L652.7 426.6 L654.8 429.1 L656.9 431 L658.8 431.1 L660.7 434.1 L662.6 435.1 L664.5 435.8 L666.4 437.1 L668.2 436.8 L670 434.9 L671.8 435.8 L673.7 434.2 L675.5 433.2 L677.3 433.1 L679.1 433.5 L680.9 432.8 L682.7 434.4 L684.5 435.3 L686.4 434.7 L688.2 434.9 L690 435.5 L691.8 436.4 L693.6 436.7 L695.4 436.5 L697.2 436.7 L699.1 435.6 L700.9 435.9 L702.7 436.3 L704.5 437.5 L706.3 436.6 L708.1 437.1 L709.9 435.9 L711.8 436 L713.6 436.5 L715.4 437.4 L717.2 437.4 L719.1 437 L721 435.7 L722.9 435.8 L724.8 435.3 L726.7 434.9 L728.4 434 L730 435.6 L731.7 434 L733.4 435.6 L735 435.3 L736.7 433.2 L738.3 434 L740 434.7 L741.7 434.9 L743.4 433.6 L745.1 433 L746.7 432.7 L748.4 434.2 L750.1 432.4 L751.8 433.1 L753.5 432 L755.2 432.7 L756.8 433.5 L758.5 431.5 L760.2 432.9 L761.9 432 L763.7 433 L765.4 432.7 L767.2 431.7 L769 433.3 L770.7 432.5 L772.5 431.6 L774.3 431.7 L776 432.9 L777.8 432.9 L779.4 432.5 L781 432 L782.6 432.4 L784.2 432.2 L785.8 433.2 L787.4 431.3 L789 432.9 L790.6 432.9 L792.2 431.3 L793.8 432.9 L795.4 431.8 L797 431.6 L798.6 429.5 L800.2 429.1 L801.8 428.4 L803.4 429.1 L805.2 427.8 L807 426.8 L808.8 426.6 L810.7 425.8 L812.5 424.9 L814.3 424.6 L816.1 425.7 L818.2 423.2 L820.4 423.3 L822.5 420.4 L824.1 419.5 L825.7 419 L827.3 417.3 L828.9 416.7 L830.5 417 L832.1 417.6 L833.7 418.3 L835.3 418.7 L836.9 420.1 L838.5 421 L840.4 420.4 L842.2 421.1 L844 420 L845.9 421.8 L847.8 421.6 L849.6 422.6 L851.2 418.3 L853 418.1 L854.9 418.2 L856.7 420.7 L858.5 419.5 L860.3 420.8 L862.2 421.1 L864 421.6 L865.8 423.2 L867.6 424.5 L869.4 423.6 L871.3 425.2 L873.1 425.1 L874.9 426.4 L876.7 426.8 L878.6 426.5 L880.5 426.7 L882.5 427 L884.4 428.7 L886.3 428 L887.9 426.4 L889.5 426.9 L891.1 426.1 L892.7 423.9 L894.3 422.2 L895.9 421.3 L897.9 419.6 L899.8 418.7 L901.8 416.6 L903.8 415.4 L905.4 416.2 L907 417.6 L908.6 419 L910.2 419.4 L911.8 419.4 L913.4 420.1 L915 421.1 L916.6 421.9 L918.2 423 L919.8 423.5 L921.4 425.2 L923 427.9 L924.6 427.2 L926.5 429 L928.4 430.3 L930.3 431.8 L932.2 431.4 L934.1 432.5 L935.9 431.3 L937.8 430.5 L939.6 429.5 L941.4 429.4 L943.2 428.1 L945.1 427 L946.9 423.9 L948.5 423.8 L950.1 425.1 L951.7 425.4 L953.3 424.3 L954.9 424.4 L956.5 422.9 L958.4 421.8 L960.3 420.9 L962.2 418.7 L964.1 416.8 L966 415 L967.6 413.1 L969.2 412.5 L970.8 412.2 L972.4 412.7 L974 412.7 L975.6 413 L977.2 412.7 L978.8 412.7 L980.4 413.1 L982 412.6 L983.6 412.9 L985.2 412 L987.1 414.6 L989 414.4 L991 416.9 L992.9 417.3 L994.8 417.6 L996.4 417.8 L998 418.8 L999.6 420.3 L1001.3 421.1 L1002.9 420.5 L1004.5 422 L1004.5 446.5 Z" fill="#eef1f5"/>
<g font-size="11" fill="#838893" text-anchor="middle"><text x="46.1" y="463">2016</text><text x="141.9" y="463">2017</text><text x="237.7" y="463">2018</text><text x="333.5" y="463">2019</text><text x="429.3" y="463">2020</text><text x="525.1" y="463">2021</text><text x="620.8" y="463">2022</text><text x="716.6" y="463">2023</text><text x="812.4" y="463">2024</text><text x="908.2" y="463">2025</text><text x="1004.0" y="463">2026</text></g>
<!-- handle -->
<rect x="998.7" y="416.6" width="13.7" height="18.8" rx="6.85" fill="#fff" stroke="#e6e9ee" stroke-width="0.5" filter="url(#sh)"/>
<path d="M1004.3 421.9 V429.3 M1007.3 421.9 V429.3" stroke="#a1a9b8" stroke-width="0.9"/>
</svg>
</body></html>
